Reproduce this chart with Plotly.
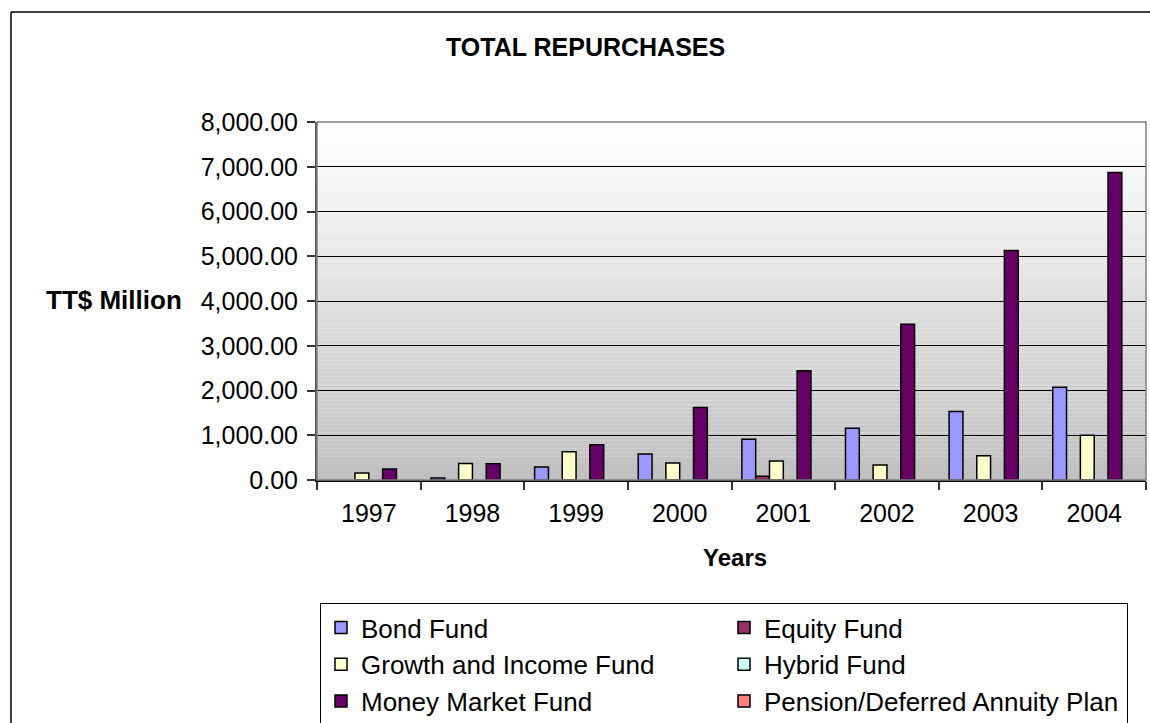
import plotly.graph_objects as go

years = ["1997", "1998", "1999", "2000", "2001", "2002", "2003", "2004"]
bond = [None, 45, 290, 579, 913, 1158, 1530, 2071]
equity = [None, None, None, None, 82, None, None, None]
growth = [156, 370, 632, 379, 423, 334, 543, 1002]
hybrid = [None] * 8
money = [245, 365, 788, 1619, 2443, 3483, 5131, 6869]
pension = [None] * 8
y_ticks = [0, 1000, 2000, 3000, 4000, 5000, 6000, 7000, 8000]

series = [
    ("Bond Fund", bond, "#9999FF"),
    ("Equity Fund", equity, "#993366"),
    ("Growth and Income Fund", growth, "#FFFFCC"),
    ("Hybrid Fund", hybrid, "#CCFFFF"),
    ("Money Market Fund", money, "#660066"),
    ("Pension/Deferred Annuity Plan", pension, "#FF8080"),
]

FONT = "Arial, Liberation Sans, sans-serif"
W, H = 1150, 723
L, R, T, B = 317, 4, 122, 243
pw, ph = W - L - R, H - T - B

def px_x(p):
    return (p - L) / pw

def px_y(p):
    return (H - B - p) / ph

fig = go.Figure()
for name, vals, col in series:
    fig.add_trace(go.Bar(
        x=years, y=vals, name=name,
        marker=dict(color=col, line=dict(color="black", width=1.5)),
    ))

shapes = []
# gradient plot background
n = 90
for i in range(n):
    t = i / (n - 1)
    v = round(255 - (255 - 192) * t)
    shapes.append(dict(
        type="rect", xref="x domain", yref="y domain",
        x0=0, x1=1, y0=1 - (i + 1) / n, y1=1 - i / n,
        fillcolor=f"rgb({v},{v},{v})", line=dict(width=0), layer="below",
    ))
# plot area border
shapes.append(dict(type="rect", xref="x domain", yref="y domain", x0=0, x1=1, y0=0, y1=1,
                   line=dict(color="#808080", width=1.5), layer="above"))
# outer chart border (top and left edges visible)
shapes.append(dict(type="line", xref="paper", yref="paper",
                   x0=px_x(11), x1=px_x(1150), y0=px_y(12), y1=px_y(12),
                   line=dict(color="black", width=1.5), layer="below"))
shapes.append(dict(type="line", xref="paper", yref="paper",
                   x0=px_x(11), x1=px_x(11), y0=px_y(12), y1=px_y(723),
                   line=dict(color="black", width=1.5), layer="below"))

annotations = [
    dict(text="<b>TOTAL REPURCHASES</b>", xref="paper", yref="paper",
         x=px_x(585), y=px_y(47.5), xanchor="center", yanchor="middle",
         showarrow=False, font=dict(family=FONT, size=25, color="black")),
    dict(text="<b>TT$ Million</b>", xref="paper", yref="paper",
         x=px_x(184), y=px_y(300), xanchor="right", yanchor="middle",
         showarrow=False, font=dict(family=FONT, size=26, color="black")),
    dict(text="<b>Years</b>", xref="paper", yref="paper",
         x=px_x(735), y=px_y(557), xanchor="center", yanchor="middle",
         showarrow=False, font=dict(family=FONT, size=24, color="black")),
]

fig.update_layout(
    width=W, height=H,
    margin=dict(l=L, r=R, t=T, b=B, pad=0),
    paper_bgcolor="white", plot_bgcolor="rgba(0,0,0,0)",
    barmode="group", bargap=0.2, bargroupgap=0,
    font=dict(family=FONT, size=25, color="black"),
    shapes=shapes, annotations=annotations,
    showlegend=True,
    legend=dict(
        orientation="h", x=320 / W, y=1 - 603 / H, xanchor="left", yanchor="top",
        xref="container", yref="container",
        bgcolor="white", bordercolor="black", borderwidth=1,
        entrywidth=358, entrywidthmode="pixels",
        font=dict(family=FONT, size=26, color="black"),
        traceorder="normal",
    ),
    xaxis=dict(
        type="category", tickson="boundaries", ticks="outside", ticklen=8,
        tickcolor="#333333", tickwidth=1.5, showline=True, linecolor="black", linewidth=1.5,
        showgrid=False, tickfont=dict(size=25), zeroline=False, ticklabelstandoff=10,
    ),
    yaxis=dict(
        range=[0, 8000], tickvals=y_ticks, tickformat=",.2f",
        ticks="outside", ticklen=8, tickcolor="#333333", tickwidth=1.5,
        showline=True, linecolor="#555555", linewidth=2,
        showgrid=True, gridcolor="black", gridwidth=1, zeroline=False,
        tickfont=dict(size=25), ticklabelstandoff=4,
    ),
)

fig.write_html("out.html")
